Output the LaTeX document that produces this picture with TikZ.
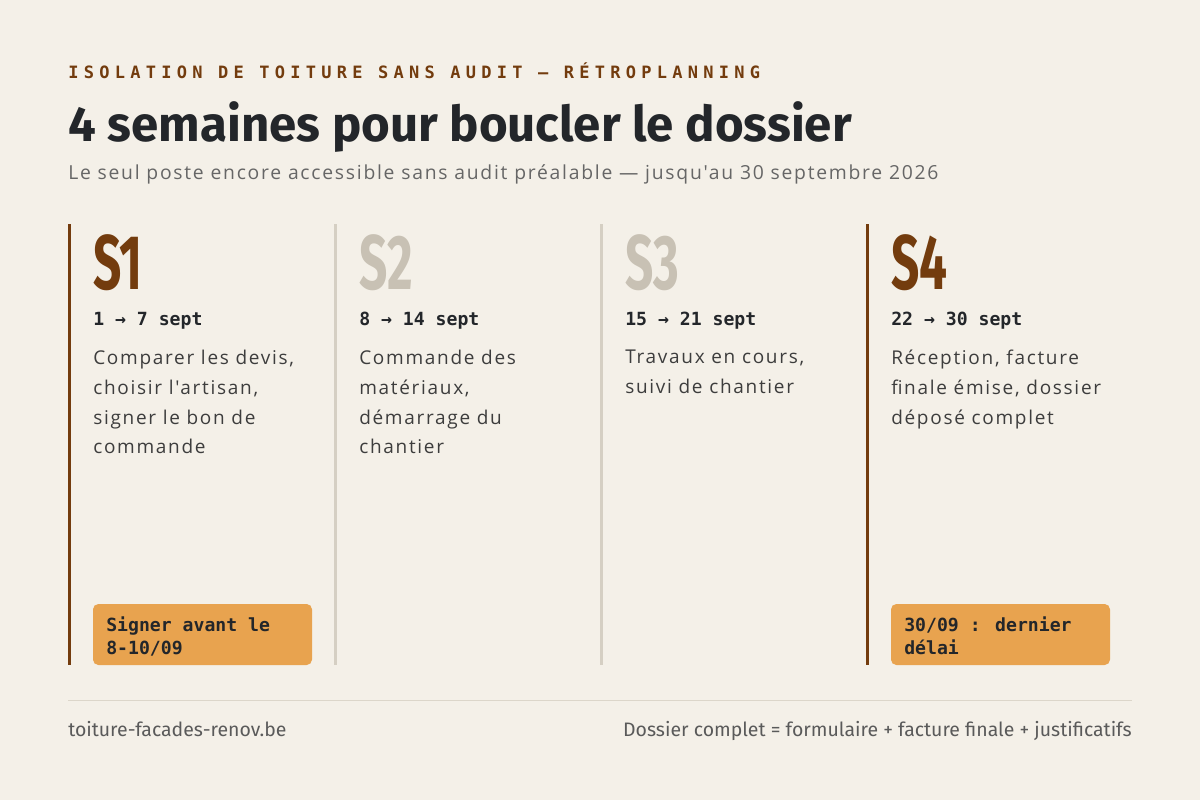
\documentclass[tikz,border=0pt]{standalone}
\usepackage{fontspec}
\setmainfont{Open Sans}[Ligatures=TeXOff, LetterSpace=9]
\newfontfamily\titlefont{Fira Sans}
\newfontfamily\footfont{Fira Sans}
\newfontfamily\monofont{DejaVu Sans Mono}
\newfontfamily\kickerfont[LetterSpace=31]{DejaVu Sans Mono}
\definecolor{bg}{HTML}{F4F0E8}
\definecolor{brown}{HTML}{733C0E}
\definecolor{ghost}{HTML}{C8C1B4}
\definecolor{inkdark}{HTML}{23262A}
\definecolor{bodytxt}{HTML}{3D3D3D}
\definecolor{subtxt}{HTML}{666666}
\definecolor{badge}{HTML}{E8A34F}
\definecolor{rule}{HTML}{DCD6CA}
\definecolor{inactive}{HTML}{D5CFC3}
\definecolor{foottxt}{HTML}{5A5A5A}
\tikzset{
  txt/.style={inner sep=0pt, anchor=base west},
  bigweek/.style={txt, font=\titlefont\bfseries\fontsize{58pt}{58pt}\selectfont},
  datestyle/.style={txt, text=inkdark, font=\monofont\bfseries\fontsize{13.6pt}{13.6pt}\selectfont},
  descstyle/.style={inner sep=0pt, anchor=north west, align=left, text=bodytxt, font=\fontsize{14.25pt}{22.3pt}\selectfont},
  badgebox/.style={draw=none, fill=badge, rounded corners=4pt},
  badgetxt/.style={inner sep=0pt, anchor=north west, align=left, text=inkdark, font=\monofont\bfseries\fontsize{13.6pt}{17.25pt}\selectfont},
  activeline/.style={draw=brown, line width=2.25pt},
  idleline/.style={draw=inactive, line width=2.25pt},
  foot/.style={inner sep=0pt, text=foottxt, font=\footfont\fontsize{14.6pt}{14.6pt}\selectfont},
}
\begin{document}
\begin{tikzpicture}[x=0.75pt, y=-0.75pt]
\fill[bg] (0,0) rectangle (1200,800);
\useasboundingbox (0,0) rectangle (1200,800);

\node[txt, text=brown, font=\kickerfont\bfseries\fontsize{12.75pt}{12.75pt}\selectfont] (kicker) at (68,78) {ISOLATION DE TOITURE SANS AUDIT — RÉTROPLANNING};
\node[txt, text=inkdark, font=\titlefont\bfseries\fontsize{36.9pt}{36.9pt}\selectfont] (title) at (68,141) {4 semaines pour boucler le dossier};
\node[txt, text=subtxt, font=\fontsize{14.5pt}{14.5pt}\selectfont] (subtitle) at (68,179) {Le seul poste encore accessible sans audit préalable — jusqu'au 30 septembre 2026};

% column lines
\coordinate (l1t) at (69.5,224); \coordinate (l1b) at (69.5,665);
\coordinate (l2t) at (335.5,224); \coordinate (l2b) at (335.5,665);
\coordinate (l3t) at (601.5,224); \coordinate (l3b) at (601.5,665);
\coordinate (l4t) at (867.5,224); \coordinate (l4b) at (867.5,665);
\draw[activeline] (l1t) -- (l1b);
\draw[idleline] (l2t) -- (l2b);
\draw[idleline] (l3t) -- (l3b);
\draw[activeline] (l4t) -- (l4b);

% week labels
\node[bigweek, text=brown] (w1) at (93,289) {\scalebox{0.64}[1]{S1}};
\node[bigweek, text=ghost] (w2) at (359,289) {\scalebox{0.64}[1]{S2}};
\node[bigweek, text=ghost] (w3) at (625,289) {\scalebox{0.64}[1]{S3}};
\node[bigweek, text=brown] (w4) at (891,289) {\scalebox{0.64}[1]{S4}};

% dates
\node[datestyle] (d1) at (93,325) {1 → 7 sept};
\node[datestyle] (d2) at (359,325) {8 → 14 sept};
\node[datestyle] (d3) at (625,325) {15 → 21 sept};
\node[datestyle] (d4) at (891,325) {22 → 30 sept};

% descriptions
\node[descstyle] (t1) at (93,350) {Comparer les devis,\\choisir l'artisan,\\signer le bon de\\commande};
\node[descstyle] (t2) at (359,350) {Commande des\\matériaux,\\démarrage du\\chantier};
\node[descstyle] (t3) at (625,350) {Travaux en cours,\\suivi de chantier};
\node[descstyle] (t4) at (891,350) {Réception, facture\\finale émise, dossier\\déposé complet};

% badges
\path[badgebox] (93,604) rectangle (312,665);
\node[badgetxt] (b1) at (106,616.5) {Signer avant le\\8-10/09};
\path[badgebox] (891,604) rectangle (1110,665);
\node[badgetxt] (b4) at (904,616.5) {30/09 : dernier\\délai};

% footer
\coordinate (fr1) at (68,700.5); \coordinate (fr2) at (1132,700.5);
\draw[rule, line width=0.75pt] (fr1) -- (fr2);
\node[foot, anchor=base west] (f1) at (68,736) {toiture-facades-renov.be};
\node[foot, anchor=base east] (f2) at (1132,736) {Dossier complet = formulaire + facture finale + justificatifs};
\end{tikzpicture}
\end{document}
